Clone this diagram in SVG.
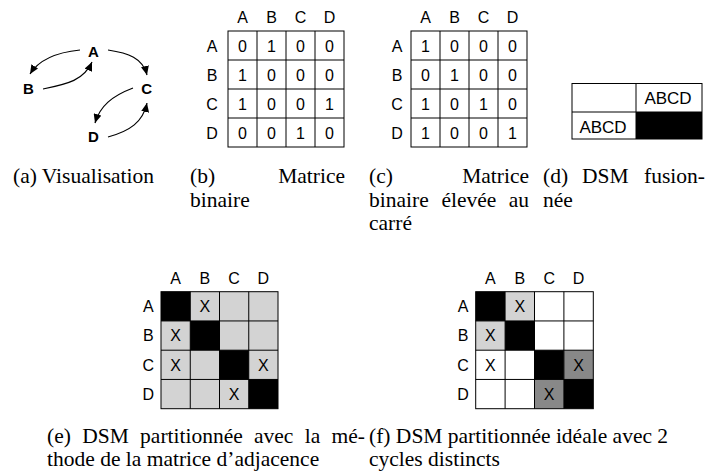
<svg xmlns="http://www.w3.org/2000/svg" width="712" height="471" viewBox="0 0 712 471">
<style>
.bg{fill:#fff}
.lbl{font-family:"Liberation Sans",Arial,sans-serif;font-size:16px;fill:#000;text-anchor:middle}
.nd{font-family:"Liberation Sans",Arial,sans-serif;font-size:15px;font-weight:bold;fill:#000;text-anchor:middle}
.big{font-family:"Liberation Sans",Arial,sans-serif;font-size:17px;fill:#000;text-anchor:middle}
.cap{font-family:"Liberation Serif","Times New Roman",serif;font-size:21.5px;fill:#000}
.grid{fill:none;stroke:#000;stroke-width:1}
.edge{fill:none;stroke:#000;stroke-width:1.2}
.blk{fill:#000}
.lg{fill:#d3d3d3}
.dg{fill:#888}
.wh{fill:#fff}
</style>
<defs>
<marker id="ah" markerUnits="userSpaceOnUse" markerWidth="9" markerHeight="8" refX="9" refY="4" orient="auto">
<path d="M0,0 L9,4 L0,8 z" fill="#000"/>
</marker>
</defs>
<rect class="bg" x="0" y="0" width="712" height="471"/>

<!-- (a) graph -->
<g id="edges">
<path class="edge" d="M80,50 C60,52 40,58 30,74" marker-end="url(#ah)"/>
<path class="edge" d="M43,89 C68,84 84,80 92,62" marker-end="url(#ah)"/>
<path class="edge" d="M108,50 C128,53 143,58 147,75" marker-end="url(#ah)"/>
<path class="edge" d="M133,88 C112,96 100,106 95,123" marker-end="url(#ah)"/>
<path class="edge" d="M108,137 C130,131 143,122 147,103" marker-end="url(#ah)"/>
</g>
<g id="node-A"><text class="nd" x="93.3" y="57">A</text></g>
<g id="node-B"><text class="nd" x="28.3" y="93.6">B</text></g>
<g id="node-C"><text class="nd" x="146.7" y="93.6">C</text></g>
<g id="node-D"><text class="nd" x="93.3" y="142">D</text></g>

<!-- (b) binary matrix -->
<g id="matrix-b">
<text class="lbl" x="242.5" y="23">A</text><text class="lbl" x="271.5" y="23">B</text><text class="lbl" x="300.5" y="23">C</text><text class="lbl" x="329.5" y="23">D</text>
<text class="lbl" x="212" y="51.5">A</text><text class="lbl" x="212" y="80.5">B</text><text class="lbl" x="212" y="109.5">C</text><text class="lbl" x="212" y="138.5">D</text>
<rect class="grid" x="228" y="31" width="116" height="116"/>
<path class="grid" d="M257,31V147M286,31V147M315,31V147M228,60H344M228,89H344M228,118H344"/>
<text class="lbl" x="242.5" y="51.5">0</text><text class="lbl" x="271.5" y="51.5">1</text><text class="lbl" x="300.5" y="51.5">0</text><text class="lbl" x="329.5" y="51.5">0</text>
<text class="lbl" x="242.5" y="80.5">1</text><text class="lbl" x="271.5" y="80.5">0</text><text class="lbl" x="300.5" y="80.5">0</text><text class="lbl" x="329.5" y="80.5">0</text>
<text class="lbl" x="242.5" y="109.5">1</text><text class="lbl" x="271.5" y="109.5">0</text><text class="lbl" x="300.5" y="109.5">0</text><text class="lbl" x="329.5" y="109.5">1</text>
<text class="lbl" x="242.5" y="138.5">0</text><text class="lbl" x="271.5" y="138.5">0</text><text class="lbl" x="300.5" y="138.5">1</text><text class="lbl" x="329.5" y="138.5">0</text>
</g>

<!-- (c) squared matrix -->
<g id="matrix-c">
<text class="lbl" x="425.5" y="23">A</text><text class="lbl" x="454.5" y="23">B</text><text class="lbl" x="483.5" y="23">C</text><text class="lbl" x="512.5" y="23">D</text>
<text class="lbl" x="397" y="51.5">A</text><text class="lbl" x="397" y="80.5">B</text><text class="lbl" x="397" y="109.5">C</text><text class="lbl" x="397" y="138.5">D</text>
<rect class="grid" x="411" y="31" width="116" height="116"/>
<path class="grid" d="M440,31V147M469,31V147M498,31V147M411,60H527M411,89H527M411,118H527"/>
<text class="lbl" x="425.5" y="51.5">1</text><text class="lbl" x="454.5" y="51.5">0</text><text class="lbl" x="483.5" y="51.5">0</text><text class="lbl" x="512.5" y="51.5">0</text>
<text class="lbl" x="425.5" y="80.5">0</text><text class="lbl" x="454.5" y="80.5">1</text><text class="lbl" x="483.5" y="80.5">0</text><text class="lbl" x="512.5" y="80.5">0</text>
<text class="lbl" x="425.5" y="109.5">1</text><text class="lbl" x="454.5" y="109.5">0</text><text class="lbl" x="483.5" y="109.5">1</text><text class="lbl" x="512.5" y="109.5">0</text>
<text class="lbl" x="425.5" y="138.5">1</text><text class="lbl" x="454.5" y="138.5">0</text><text class="lbl" x="483.5" y="138.5">0</text><text class="lbl" x="512.5" y="138.5">1</text>
</g>

<!-- (d) merged DSM -->
<g id="matrix-d">
<rect class="blk" x="636" y="112" width="66" height="27"/>
<rect class="grid" x="572" y="83.5" width="130" height="55.5"/>
<path class="grid" d="M636,83.5V139M572,112H702"/>
<text class="big" x="668" y="104">ABCD</text>
<text class="big" x="603" y="132.5">ABCD</text>
</g>

<!-- (e) partitioned DSM -->
<g id="matrix-e">
<text class="lbl" x="175.6" y="284">A</text><text class="lbl" x="204.9" y="284">B</text><text class="lbl" x="234.1" y="284">C</text><text class="lbl" x="263.4" y="284">D</text>
<text class="lbl" x="148.3" y="312">A</text><text class="lbl" x="148.3" y="341.3">B</text><text class="lbl" x="148.3" y="370.5">C</text><text class="lbl" x="148.3" y="399.8">D</text>
<rect class="lg" x="161" y="291.7" width="117" height="117"/>
<rect class="blk" x="161" y="291.7" width="29.25" height="29.25"/>
<rect class="blk" x="190.25" y="320.95" width="29.25" height="29.25"/>
<rect class="blk" x="219.5" y="350.2" width="29.25" height="29.25"/>
<rect class="blk" x="248.75" y="379.45" width="29.25" height="29.25"/>
<rect class="grid" x="161" y="291.7" width="117" height="117" stroke="#333"/>
<path class="grid" stroke="#333" d="M190.25,291.7V408.7M219.5,291.7V408.7M248.75,291.7V408.7M161,320.95H278M161,350.2H278M161,379.45H278"/>
<text class="lbl" x="204.9" y="312">X</text>
<text class="lbl" x="175.6" y="341.3">X</text>
<text class="lbl" x="175.6" y="370.5">X</text>
<text class="lbl" x="263.4" y="370.5">X</text>
<text class="lbl" x="234.1" y="399.8">X</text>
</g>

<!-- (f) ideal partitioned DSM -->
<g id="matrix-f">
<text class="lbl" x="490.4" y="284">A</text><text class="lbl" x="519.8" y="284">B</text><text class="lbl" x="549.2" y="284">C</text><text class="lbl" x="578.6" y="284">D</text>
<text class="lbl" x="463" y="312">A</text><text class="lbl" x="463" y="341.3">B</text><text class="lbl" x="463" y="370.5">C</text><text class="lbl" x="463" y="399.8">D</text>
<rect class="wh" x="475.7" y="291.7" width="117.6" height="117"/>
<rect class="blk" x="475.7" y="291.7" width="29.4" height="29.25"/>
<rect class="lg" x="505.1" y="291.7" width="29.4" height="29.25"/>
<rect class="lg" x="475.7" y="320.95" width="29.4" height="29.25"/>
<rect class="blk" x="505.1" y="320.95" width="29.4" height="29.25"/>
<rect class="blk" x="534.5" y="350.2" width="29.4" height="29.25"/>
<rect class="dg" x="563.9" y="350.2" width="29.4" height="29.25"/>
<rect class="dg" x="534.5" y="379.45" width="29.4" height="29.25"/>
<rect class="blk" x="563.9" y="379.45" width="29.4" height="29.25"/>
<rect class="grid" x="475.7" y="291.7" width="117.6" height="117" stroke="#333"/>
<path class="grid" stroke="#333" d="M505.1,291.7V408.7M534.5,291.7V408.7M563.9,291.7V408.7M475.7,320.95H593.3M475.7,350.2H593.3M475.7,379.45H593.3"/>
<text class="lbl" x="519.8" y="312">X</text>
<text class="lbl" x="490.4" y="341.3">X</text>
<text class="lbl" x="490.4" y="370.5">X</text>
<text class="lbl" x="578.6" y="370.5">X</text>
<text class="lbl" x="549.2" y="399.8">X</text>
</g>

<!-- captions -->
<g id="captions">
<text class="cap" x="13" y="183">(a) Visualisation</text>
<text class="cap" x="190" y="183">(b)</text>
<text class="cap" x="345" y="183" text-anchor="end">Matrice</text>
<text class="cap" x="190" y="206.5">binaire</text>
<text class="cap" x="369" y="183">(c)</text>
<text class="cap" x="529" y="183" text-anchor="end">Matrice</text>
<text class="cap" x="369" y="206.5">binaire</text>
<text class="cap" x="441.5" y="206.5">élevée</text>
<text class="cap" x="529" y="206.5" text-anchor="end">au</text>
<text class="cap" x="369" y="230">carré</text>
<text class="cap" x="543" y="183">(d)</text>
<text class="cap" x="582" y="183">DSM</text>
<text class="cap" x="705" y="183" text-anchor="end">fusion-</text>
<text class="cap" x="543" y="206.5">née</text>
<text class="cap" x="47" y="443">(e)</text>
<text class="cap" x="82.2" y="443">DSM</text>
<text class="cap" x="140.1" y="443">partitionnée</text>
<text class="cap" x="254" y="443">avec</text>
<text class="cap" x="304.7" y="443">la</text>
<text class="cap" x="365" y="443" text-anchor="end">mé-</text>
<text class="cap" x="47" y="466">thode de la matrice d’adjacence</text>
<text class="cap" x="369" y="443">(f) DSM partitionnée idéale avec 2</text>
<text class="cap" x="369" y="466">cycles distincts</text>
</g>
</svg>
